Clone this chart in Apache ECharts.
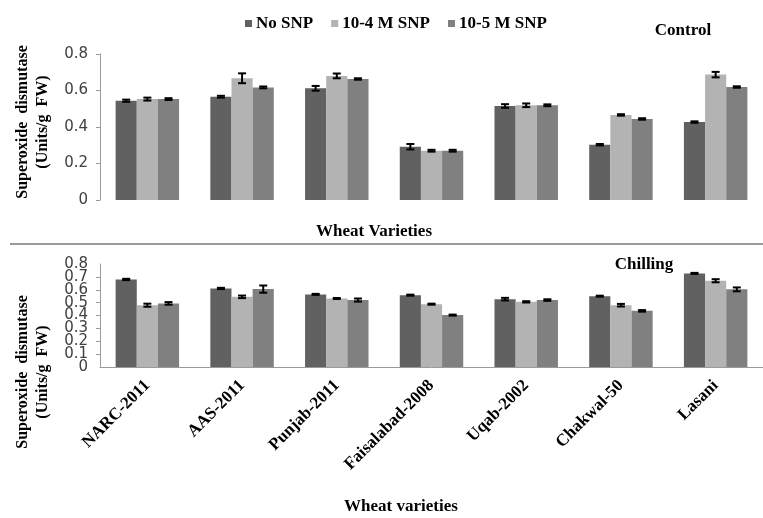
<!DOCTYPE html>
<html>
<head>
<meta charset="utf-8">
<script src="https://cdn.jsdelivr.net/npm/echarts@6/dist/echarts.min.js"></script>
<style>html,body{margin:0;padding:0;background:#fff;}#c{width:763px;height:518px;}</style>
</head>
<body>
<div id="c"></div>
<script>
const categories = ['NARC-2011','AAS-2011','Punjab-2011','Faisalabad-2008','Uqab-2002','Chakwal-50','Lasani'];
const seriesNames = ['No SNP','10-4 M SNP','10-5 M SNP'];

const controlNoSNP = [0.544,0.566,0.612,0.292,0.515,0.303,0.427];
const control4 = [0.553,0.667,0.680,0.270,0.519,0.466,0.687];
const control5 = [0.553,0.617,0.663,0.270,0.519,0.444,0.619];
const controlNoSNPErr = [0.006,0.005,0.013,0.015,0.010,0.004,0.004];
const control4Err = [0.008,0.027,0.013,0.005,0.010,0.004,0.015];
const control5Err = [0.005,0.005,0.004,0.005,0.005,0.004,0.004];

const chillNoSNP = [0.680,0.610,0.564,0.558,0.527,0.550,0.727];
const chill4 = [0.480,0.545,0.532,0.488,0.506,0.480,0.670];
const chill5 = [0.494,0.605,0.520,0.403,0.520,0.436,0.603];
const chillNoSNPErr = [0.005,0.005,0.004,0.004,0.010,0.004,0.004];
const chill4Err = [0.012,0.010,0.004,0.004,0.005,0.010,0.012];
const chill5Err = [0.010,0.028,0.012,0.004,0.006,0.006,0.015];

const controlTicks = [0,0.2,0.4,0.6,0.8];
const chillTicks = [0,0.1,0.2,0.3,0.4,0.5,0.6,0.7,0.8];

const colors = ['#616161','#b3b3b3','#808080'];
const serif = 'Liberation Serif';
const sans = 'DejaVu Sans';
const catGap = 0.33;

function errRender(idx){
  return function(params, api){
    const cat = api.value(0), v = api.value(1), e = api.value(2);
    const band = api.size([1,0])[0];
    const bw = band*(1-catGap)/3;
    const off = (idx-1)*bw;
    const t = api.coord([cat, v+e]);
    const b = api.coord([cat, v-e]);
    const x = t[0]+off;
    const cw = 4;
    const st = {stroke:'#000', lineWidth:2};
    return {type:'group', children:[
      {type:'line', shape:{x1:x,y1:t[1],x2:x,y2:b[1]}, style:st},
      {type:'line', shape:{x1:x-cw,y1:t[1],x2:x+cw,y2:t[1]}, style:st},
      {type:'line', shape:{x1:x-cw,y1:b[1],x2:x+cw,y2:b[1]}, style:st}
    ]};
  };
}
function errData(vals, errs){ return vals.map((v,i)=>[i, v, errs[i]]); }

const ctrlVals = [controlNoSNP, control4, control5];
const ctrlErrs = [controlNoSNPErr, control4Err, control5Err];
const chVals = [chillNoSNP, chill4, chill5];
const chErrs = [chillNoSNPErr, chill4Err, chill5Err];

const series = [];
for (let k=0;k<3;k++){
  series.push({type:'bar', name:seriesNames[k], xAxisIndex:0, yAxisIndex:0, data:ctrlVals[k],
    itemStyle:{color:colors[k]}, barGap:'0%', barCategoryGap:(catGap*100)+'%', z:2});
}
for (let k=0;k<3;k++){
  series.push({type:'bar', name:seriesNames[k], xAxisIndex:1, yAxisIndex:1, data:chVals[k],
    itemStyle:{color:colors[k]}, barGap:'0%', barCategoryGap:(catGap*100)+'%', z:2});
}
for (let k=0;k<3;k++){
  series.push({type:'custom', xAxisIndex:0, yAxisIndex:0, renderItem:errRender(k),
    data:errData(ctrlVals[k], ctrlErrs[k]), z:5, silent:true});
  series.push({type:'custom', xAxisIndex:1, yAxisIndex:1, renderItem:errRender(k),
    data:errData(chVals[k], chErrs[k]), z:5, silent:true});
}

const fmt = v=>String(Math.round(v*10)/10);
const baseLabel = {fontFamily:sans, fontSize:15, color:'#404040', margin:12};

const option = {
  animation:false,
  backgroundColor:'#fff',
  legend:{
    data:seriesNames, left:240, top:10, itemWidth:7, itemHeight:7, itemGap:18, icon:'rect',
    textStyle:{fontFamily:serif, fontWeight:'bold', fontSize:17, color:'#000', padding:[0,0,0,-1]}
  },
  grid:[
    {left:100, right:-7, top:54, height:146},
    {left:100, right:-7, top:264, height:103}
  ],
  xAxis:[
    {type:'category', gridIndex:0, data:categories, axisLine:{show:false}, axisTick:{show:false}, axisLabel:{show:false}},
    {type:'category', gridIndex:1, data:categories,
      axisLine:{lineStyle:{color:'#9a9a9a', width:1}},
      axisTick:{length:5, lineStyle:{color:'#9a9a9a'}},
      axisLabel:{rotate:45, fontFamily:serif, fontWeight:'bold', fontSize:17, color:'#000', margin:16, interval:0}}
  ],
  yAxis:[
    {type:'value', gridIndex:0, min:0, max:0.8, interval:0.2,
      axisLine:{show:true, lineStyle:{color:'#9a9a9a'}}, axisTick:{show:true, length:4, lineStyle:{color:'#9a9a9a'}},
      splitLine:{show:false}, axisLabel:Object.assign({formatter:fmt}, baseLabel)},
    {type:'value', gridIndex:1, min:0, max:0.8, interval:0.1, position:'left', offset:0,
      axisLine:{show:true, lineStyle:{color:'#9a9a9a'}}, axisTick:{show:true, length:4, lineStyle:{color:'#9a9a9a'}},
      splitLine:{show:false},
      axisLabel:Object.assign({showMinLabel:false, showMaxLabel:false,
        formatter:v=>(Math.round(v*10)%2===1 ? fmt(v) : '')}, baseLabel)},
    {type:'value', gridIndex:1, min:0, max:0.8, interval:0.2, position:'left', offset:0,
      axisLine:{show:false}, axisTick:{show:false}, splitLine:{show:false},
      axisLabel:Object.assign({formatter:fmt}, baseLabel)}
  ],
  graphic:[
    {type:'line', shape:{x1:10,y1:244,x2:763,y2:244}, style:{stroke:'#9a9a9a', lineWidth:2}},
    {type:'text', x:23, y:122, rotation:Math.PI/2, style:{text:'Superoxide  dismutase', fontFamily:serif, fontWeight:'bold', fontSize:16, fill:'#000', align:'center', verticalAlign:'middle'}},
    {type:'text', x:43, y:122, rotation:Math.PI/2, style:{text:'(Units/g  FW)', fontFamily:serif, fontWeight:'bold', fontSize:16, fill:'#000', align:'center', verticalAlign:'middle'}},
    {type:'text', x:23, y:372, rotation:Math.PI/2, style:{text:'Superoxide  dismutase', fontFamily:serif, fontWeight:'bold', fontSize:16, fill:'#000', align:'center', verticalAlign:'middle'}},
    {type:'text', x:43, y:372, rotation:Math.PI/2, style:{text:'(Units/g  FW)', fontFamily:serif, fontWeight:'bold', fontSize:16, fill:'#000', align:'center', verticalAlign:'middle'}},
    {type:'text', x:374, y:232, style:{text:'Wheat Varieties', fontFamily:serif, fontWeight:'bold', fontSize:17, fill:'#000', align:'center', verticalAlign:'middle'}},
    {type:'text', x:401, y:507, style:{text:'Wheat varieties', fontFamily:serif, fontWeight:'bold', fontSize:17, fill:'#000', align:'center', verticalAlign:'middle'}},
    {type:'text', x:683, y:31, style:{text:'Control', fontFamily:serif, fontWeight:'bold', fontSize:17, fill:'#000', align:'center', verticalAlign:'middle'}},
    {type:'text', x:644, y:265, style:{text:'Chilling', fontFamily:serif, fontWeight:'bold', fontSize:17, fill:'#000', align:'center', verticalAlign:'middle'}}
  ],
  series:series
};
const chart = echarts.init(document.getElementById('c'), null, {renderer:'canvas'});
chart.setOption(option);
</script>
</body>
</html>
